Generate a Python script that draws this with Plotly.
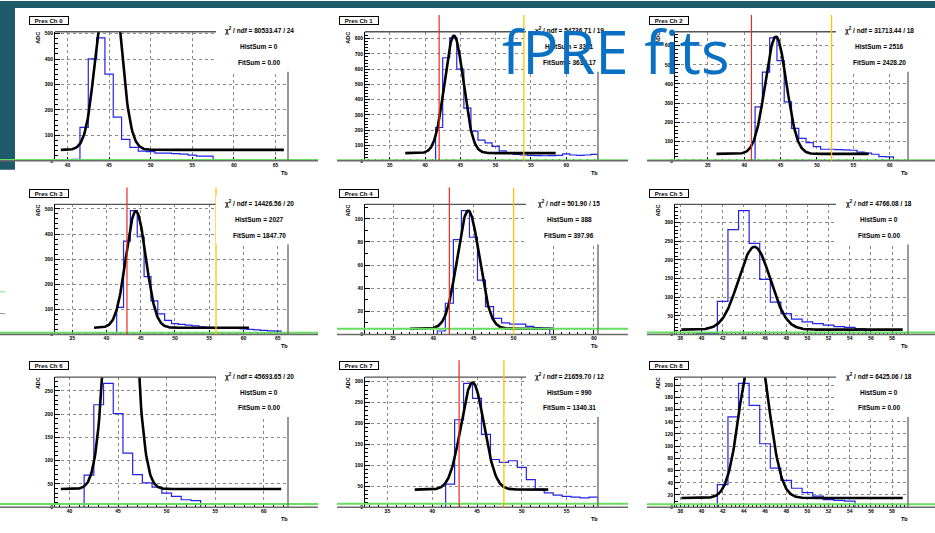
import numpy as np
import plotly.graph_objects as go

W, H = 935, 533

# ---------------- data ----------------
channels = ["Pres Ch 0", "Pres Ch 1", "Pres Ch 2", "Pres Ch 3", "Pres Ch 4",
            "Pres Ch 5", "Pres Ch 6", "Pres Ch 7", "Pres Ch 8"]

# left edge of the first histogram bin (bins are 1 Tb wide)
hist_start = [39.5, 40.5, 40.5, 41.5, 40.5, 39.5, 41.5, 41.5, 41.5]

hist_ch0 = [2, 6, 131, 401, 483, 341, 172, 84, 53, 38, 36, 30, 30, 28, 26, 22, 18, 18]
hist_ch1 = [3, 218, 675, 805, 600, 345, 194, 136, 118, 95, 65, 48, 42, 38, 36, 34, 33, 34,
            35, 45, 38, 36, 38, 42]
hist_ch2 = [3, 281, 462, 640, 522, 307, 169, 117, 95, 74, 60, 60, 58, 57, 55, 45, 40, 34, 22, 20]
hist_ch3 = [108, 372, 493, 389, 230, 134, 82, 56, 43, 40, 37, 34, 30, 28, 27, 27, 26, 24,
            22, 20, 18, 16, 14, 13]
hist_ch4 = [3, 27, 82, 107, 84, 47, 24, 14, 10, 9, 9, 7, 6, 5.5]
hist_ch5 = [3, 3, 89, 281, 332, 244, 148, 87, 56, 41, 34, 29, 25, 21, 19, 16]
hist_ch6 = [69, 220, 266, 201, 116, 70, 52, 43, 30, 23, 16, 14]
hist_ch7 = [55, 209, 296, 260, 174, 114, 107, 111, 95, 66, 43, 34, 29, 26, 24, 22, 24]
hist_ch8 = [37, 148, 203, 167, 104, 64, 44, 31, 24, 18, 12.5, 11, 10]
hist_values = [hist_ch0, hist_ch1, hist_ch2, hist_ch3, hist_ch4,
               hist_ch5, hist_ch6, hist_ch7, hist_ch8]

x_ranges = [[38.5, 66.5], [31.5, 64.5], [30.5, 62.5], [32.5, 66.5], [31.5, 60.5],
            [37.5, 59.5], [38.5, 62.5], [32.5, 58.5], [37.5, 59.5]]
x_dticks = [5, 5, 5, 5, 5, 2, 5, 5, 2]
y_dticks = [100, 100, 100, 100, 20, 50, 50, 50, 20]

# fit: constant + gaussian (parameters)
fit_const = [43, 50, 36, 27, 5, 13, 39, 42, 15]
fit_amp = [800, 769, 611, 464, 102, 222, 840, 256, 277]
fit_mean = [44.95, 44.1, 44.35, 44.3, 44.35, 45.0, 45.26, 44.5, 45.0]
fit_sigma = [1.30, 1.33, 1.45, 1.45, 1.37, 1.50, 1.19, 1.28, 1.25]
fit_lo = [39.2, 37.2, 36.2, 38.2, 37.1, 38.1, 39.1, 38.05, 38.1]
fit_hi = [66.0, 58.5, 57.1, 60.8, 55.0, 59.0, 61.8, 52.95, 59.0]

red_lines = [None, 42, 41, 43, 42, None, None, 43, None]
yellow_lines = [None, 54, 52, 56, 50, None, None, 48, None]
green_levels = [3, 4, 3, 7, 5, 5, 7, 8, 5]

chi2_text = ["80533.47 / 24", "54736.71 / 19", "31713.44 / 18", "14426.56 / 20", "501.90 / 15",
             "4766.08 / 18", "45693.65 / 20", "21659.70 / 12", "6425.06 / 18"]
histsum_text = ["0", "3361", "2516", "2027", "388", "0", "0", "990", "0"]
fitsum_text = ["0.00", "3633.17", "2428.20", "1847.70", "397.96", "0.00", "0.00", "1340.31", "0.00"]

title_text = "fPRE fits"

# ---------------- layout geometry (pixels) ----------------
col_x = [0, 310, 620]
row_tops = [31, 205, 379]
row_bottoms = [161, 336, 510]
FRAME_W = 233
FONT = "Liberation Sans"


def px(x):
    return x / W


def py(y):
    return 1 - y / H


fig = go.Figure()
shapes = []
annotations = []
layout = {}

# slide decorations
TEAL = "#1f5a6a"
shapes.append(dict(type="rect", xref="paper", yref="paper", x0=0, x1=1, y0=py(7), y1=1,
                   fillcolor=TEAL, line_width=0, layer="below"))
shapes.append(dict(type="rect", xref="paper", yref="paper", x0=0, x1=px(15), y0=py(170), y1=1,
                   fillcolor=TEAL, line_width=0, layer="below"))
shapes.append(dict(type="line", xref="paper", yref="paper", x0=0, x1=px(5), y0=py(293), y1=py(293),
                   line=dict(color="#7be07b", width=1)))
shapes.append(dict(type="line", xref="paper", yref="paper", x0=0, x1=px(5), y0=py(315), y1=py(315),
                   line=dict(color="#999999", width=1)))

for i in range(9):
    r, c = divmod(i, 3)
    fl = 55 + col_x[c]
    fr = fl + FRAME_W
    ft = row_tops[r]
    fb = row_bottoms[r]
    sfx = "" if i == 0 else str(i + 1)
    xa, ya = "x" + sfx, "y" + sfx

    vals = hist_values[i]
    ymax = 1.05 * max(vals)
    edges = [hist_start[i] + k for k in range(len(vals) + 1)]
    hx = [edges[0]] + edges
    hy = [0] + list(vals) + [0]

    fig.add_trace(go.Scatter(x=hx, y=hy, mode="lines", line=dict(color="#2323e8", width=1.2, shape="hv"),
                             xaxis=xa, yaxis=ya, showlegend=False, hoverinfo="skip"))

    fx = np.linspace(fit_lo[i], fit_hi[i], 300)
    fy = fit_const[i] + fit_amp[i] * np.exp(-0.5 * ((fx - fit_mean[i]) / fit_sigma[i]) ** 2)
    fig.add_trace(go.Scatter(x=fx, y=fy, mode="lines", line=dict(color="black", width=2.6),
                             xaxis=xa, yaxis=ya, showlegend=False, hoverinfo="skip"))

    tickfont = dict(size=5, family=FONT, color="black", weight="bold")
    layout["xaxis" + sfx] = dict(
        domain=[px(fl), px(fr)], range=x_ranges[i], anchor=ya, dtick=x_dticks[i], tick0=0,
        ticks="inside", ticklen=4, tickcolor="black", showline=False, zeroline=False,
        showgrid=True, gridcolor="#8a8a8a", griddash="dot", gridwidth=1, tickfont=tickfont,
        minor=dict(ticks="inside", ticklen=2, dtick=x_dticks[i] / 5, tickcolor="black", showgrid=False),
        fixedrange=True)
    layout["yaxis" + sfx] = dict(
        domain=[py(fb), py(ft)], range=[0, ymax], anchor=xa, dtick=y_dticks[i], tick0=0,
        ticks="inside", ticklen=5, tickcolor="black", showline=True, linecolor="black", linewidth=1,
        zeroline=False, showgrid=True, gridcolor="#8a8a8a", griddash="dot", gridwidth=1,
        tickfont=tickfont,
        minor=dict(ticks="inside", ticklen=2.5, dtick=y_dticks[i] / (2 if y_dticks[i] == 20 else 5),
                   tickcolor="black", showgrid=False),
        fixedrange=True)

    lx0 = 0 if c == 0 else fl - 28
    lx1 = fl + 263
    # green baseline line
    shapes.append(dict(type="line", xref="paper", yref=ya, x0=px(lx0), x1=px(lx1),
                       y0=green_levels[i], y1=green_levels[i],
                       line=dict(color="#66de5e", width=2), layer="above"))
    # bottom axis line
    shapes.append(dict(type="line", xref="paper", yref="paper", x0=px(lx0), x1=px(lx1),
                       y0=py(fb), y1=py(fb), line=dict(color="#6a6a6a", width=1.5)))
    # frame top & right
    shapes.append(dict(type="line", xref="paper", yref="paper", x0=px(fl), x1=px(fl + 161),
                       y0=py(ft), y1=py(ft), line=dict(color="#555555", width=1.3)))
    shapes.append(dict(type="line", xref="paper", yref="paper", x0=px(fr), x1=px(fr),
                       y0=py(ft + 40), y1=py(fb), line=dict(color="#777777", width=1.5)))
    # red / yellow markers
    if red_lines[i] is not None:
        shapes.append(dict(type="line", xref=xa, yref="paper", x0=red_lines[i], x1=red_lines[i],
                           y0=py(fb), y1=py(ft - 17), line=dict(color="#ee2a22", width=1.2)))
    if yellow_lines[i] is not None:
        shapes.append(dict(type="line", xref=xa, yref="paper", x0=yellow_lines[i], x1=yellow_lines[i],
                           y0=py(fb), y1=py(ft - 17), line=dict(color="#ffc400", width=1.3)))
    # stats box (white, borderless)
    shapes.append(dict(type="rect", xref="paper", yref="paper", x0=px(fl + 161), x1=px(fl + 262),
                       y0=py(ft + 40), y1=py(ft - 9), fillcolor="white", line_width=0))

    # labels
    annotations.append(dict(text=channels[i], xref="paper", yref="paper", x=px(fl - 26), y=py(ft - 16),
                            xanchor="left", yanchor="top", showarrow=False, width=38, height=7,
                            bordercolor="black", borderwidth=1, borderpad=0, bgcolor="white",
                            font=dict(size=6, family=FONT, color="black", weight="bold")))
    annotations.append(dict(text="ADC", xref="paper", yref="paper", x=px(fl - 17), y=py(ft + 6),
                            xanchor="center", yanchor="middle", showarrow=False, textangle=-90,
                            font=dict(size=5.5, family=FONT, color="black", weight="bold")))
    annotations.append(dict(text="Tb", xref="paper", yref="paper", x=px(fr - 4), y=py(fb + 12),
                            xanchor="center", yanchor="middle", showarrow=False,
                            font=dict(size=5.5, family=FONT, color="black", weight="bold")))
    stats = ["\u03c7<sup>2</sup> / ndf = " + chi2_text[i],
             "HistSum = " + histsum_text[i],
             "FitSum = " + fitsum_text[i]]
    for k, t in enumerate(stats):
        annotations.append(dict(text=t, xref="paper", yref="paper", x=px(fl + 204), y=py(ft - 1 + 16 * k),
                                xanchor="center", yanchor="middle", showarrow=False,
                                font=dict(size=6.5, family=FONT, color="black", weight="bold")))

annotations.append(dict(text=title_text, xref="paper", yref="paper", x=px(500), y=py(50),
                        xanchor="left", yanchor="middle", showarrow=False,
                        font=dict(size=60, family="Open Sans", color="#0a70c4")))

fig.update_layout(width=W, height=H, margin=dict(l=0, r=0, t=0, b=0),
                  paper_bgcolor="white", plot_bgcolor="rgba(0,0,0,0)",
                  shapes=shapes, annotations=annotations, showlegend=False, **layout)

fig.write_html("out.html")
